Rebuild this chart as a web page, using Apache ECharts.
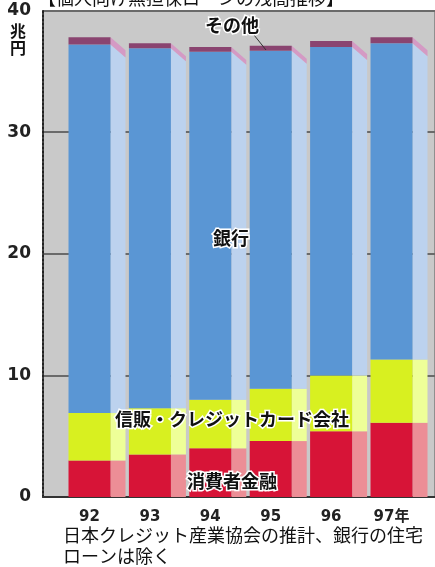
<!DOCTYPE html>
<html>
<head>
<meta charset="utf-8">
<script src="https://cdn.jsdelivr.net/npm/echarts@6/dist/echarts.min.js"></script>
<style>
  html, body { margin: 0; padding: 0; background: #fff; }
  #main { width: 435px; height: 567px; }
</style>
</head>
<body>
<div id="main"></div>
<script>
// 年（カテゴリ）
const years = ["92", "93", "94", "95", "96", "97年"];
// 残高（兆円）
const shohisha = [3.0, 3.5, 4.0, 4.6, 5.4, 6.1];   // 消費者金融
const shinpan = [3.9, 3.8, 4.0, 4.3, 4.6, 5.2];    // 信販・クレジットカード会社
const ginko = [30.3, 29.6, 28.6, 27.8, 27.0, 26.0]; // 銀行
const sonota = [0.6, 0.4, 0.4, 0.4, 0.5, 0.5];     // その他
const yTicks = [0, 10, 20, 30, 40];

const layers = [shohisha, shinpan, ginko, sonota];

// 積み上げの下端・上端を作る
function stackData(idx) {
  return years.map(function (y, i) {
    let lo = 0;
    for (let k = 0; k < idx; k++) lo += layers[k][i];
    return [i, +lo.toFixed(2), +(lo + layers[idx][i]).toFixed(2)];
  });
}

// 正面＋側面の擬似3D棒
function drawLayer(front, side, slantTop, slantBottom, withLabel) {
  return function (params, api) {
    const i = api.value(0);
    const lo = api.coord([i, api.value(1)]);
    const hi = api.coord([i, api.value(2)]);
    const fw = 42, sw = 15, s = 13;
    const x0 = lo[0] - fw / 2, x1 = lo[0] + fw / 2, x2 = x1 + sw;
    const children = [
      {
        type: "polygon",
        shape: {
          points: [
            [x1, hi[1]],
            [x2, hi[1] + (slantTop ? s : 0)],
            [x2, lo[1] + (slantBottom ? s : 0)],
            [x1, lo[1]],
          ],
        },
        style: { fill: side },
      },
      {
        type: "rect",
        shape: { x: x0, y: hi[1], width: fw, height: lo[1] - hi[1] },
        style: { fill: front },
      },
    ];
    if (withLabel) {
      children.push({
        type: "text",
        style: {
          text: years[params.dataIndex],
          x: lo[0],
          y: lo[1] + 20,
          align: "center",
          verticalAlign: "middle",
          font: 'bold 15px "DejaVu Sans", "Noto Sans CJK JP"',
          fill: "#222",
        },
      });
    }
    return { type: "group", children: children };
  };
}

const halo = { fill: "#111", stroke: "#fff", lineWidth: 3 };
const labelFont = 'bold 18px "Noto Sans CJK JP"';

let chartMain = echarts.init(document.getElementById("main"));
let option = {
  animation: false,
  grid: {
    left: 43,
    right: -2,
    top: 10.5,
    bottom: 70,
    show: true,
    backgroundColor: "#c9c9c9",
    borderColor: "#555",
    borderWidth: 1,
  },
  xAxis: {
    type: "value",
    min: -0.77,
    max: 5.72,
    axisLabel: { show: false },
    axisTick: { show: false },
    splitLine: { show: false },
    axisLine: { show: true, onZero: false, lineStyle: { color: "#333", width: 2 } },
  },
  yAxis: {
    type: "value",
    min: yTicks[0],
    max: yTicks[yTicks.length - 1],
    interval: 10,
    axisLine: { show: true, onZero: false, lineStyle: { color: "#222", type: "dotted", width: 2 } },
    axisTick: { show: false },
    axisLabel: {
      margin: 12,
      color: "#222",
      fontSize: 17,
      fontWeight: "bold",
      fontFamily: "DejaVu Sans",
    },
    splitLine: { show: true, lineStyle: { color: "#6a6a6a", width: 2 } },
  },
  series: [
    {
      type: "custom",
      data: stackData(0),
      encode: { x: 0, y: [1, 2] },
      renderItem: drawLayer("#d71437", "#ec8e96", false, false, true),
      z: 3,
    },
    {
      type: "custom",
      data: stackData(1),
      encode: { x: 0, y: [1, 2] },
      renderItem: drawLayer("#d8f020", "#eeff98", false, false, false),
      z: 3,
    },
    {
      type: "custom",
      data: stackData(2),
      encode: { x: 0, y: [1, 2] },
      renderItem: drawLayer("#5a96d4", "#bcd2ee", true, false, false),
      z: 3,
    },
    {
      type: "custom",
      data: stackData(3),
      encode: { x: 0, y: [1, 2] },
      renderItem: drawLayer("#8a4470", "#d49ac4", true, true, false),
      z: 3,
    },
  ],
  graphic: [
    {
      type: "text",
      z: 100,
      style: {
        text: "【個人向け無担保ローンの残高推移】",
        x: 38, y: -2, verticalAlign: "middle",
        font: '18px "Noto Sans CJK JP"', fill: "#111",
      },
    },
    {
      type: "text",
      z: 100,
      style: {
        text: "兆\n円",
        x: 18, y: 39, align: "center", verticalAlign: "middle", lineHeight: 17,
        font: 'bold 16px "Noto Sans CJK JP"', fill: "#111",
      },
    },
    {
      type: "line",
      z: 100,
      shape: { x1: 254, y1: 35, x2: 266, y2: 50 },
      style: { stroke: "#333", lineWidth: 1 },
    },
    {
      type: "text",
      z: 100,
      style: Object.assign({ text: "その他", x: 232, y: 25, align: "center", verticalAlign: "middle", font: labelFont }, halo),
    },
    {
      type: "text",
      z: 100,
      style: Object.assign({ text: "銀行", x: 231, y: 238, align: "center", verticalAlign: "middle", font: labelFont }, halo),
    },
    {
      type: "text",
      z: 100,
      style: Object.assign({ text: "信販・クレジットカード会社", x: 232, y: 419, align: "center", verticalAlign: "middle", font: labelFont }, halo),
    },
    {
      type: "text",
      z: 100,
      style: Object.assign({ text: "消費者金融", x: 232, y: 481, align: "center", verticalAlign: "middle", font: labelFont }, halo),
    },
    {
      type: "text",
      z: 100,
      style: {
        text: "日本クレジット産業協会の推計、銀行の住宅\nローンは除く",
        x: 63, y: 525, lineHeight: 21,
        font: '18px "Noto Sans CJK JP"', fill: "#111",
      },
    },
  ],
};
chartMain && chartMain.setOption(option);
window.onresize = chartMain.resize;
</script>
</body>
</html>
